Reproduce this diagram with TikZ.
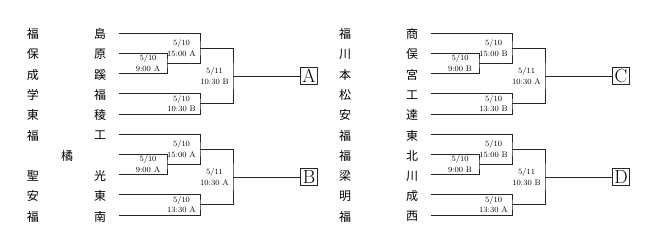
\documentclass[tikz,border=0pt]{standalone}
\usepackage{fontspec}
\newfontfamily\jpfont{Noto Sans CJK JP}
\usetikzlibrary{positioning}
\tikzset{
  team/.style={font=\jpfont\fontsize{12}{12}\selectfont,inner sep=0pt},
  wire/.style={draw=black!85,line width=.6pt},
  slot/.style={font=\fontsize{8}{10.5}\selectfont,align=center,inner sep=0pt},
  seed/.style={draw=black!85,line width=.6pt,minimum size=17pt,inner sep=0pt,font=\fontsize{19}{19}\selectfont},
}
\begin{document}
\begin{tikzpicture}[x=1pt,y=-1pt]
  \useasboundingbox (0,0) rectangle (654,249);

  % ---------------- team names ----------------
  \foreach \i/\l/\r in {1/福/島,2/保/原,3/成/蹊,4/学/福,5/東/稜,6/福/工,8/聖/光,9/安/東,10/福/南}{
    \node[team] (L\i a) at (33,{34+20.3*(\i-1)}) {\l};
    \node[team] (L\i b) at (100,{34+20.3*(\i-1)}) {\r};
  }
  \node[team] (L7m) at (67,{34+20.3*6}) {橘};
  \foreach \i/\l/\r in {1/福/商,2/川/俣,3/本/宮,4/松/工,5/安/達,6/福/東,7/福/北,8/梁/川,9/明/成,10/福/西}{
    \node[team] (R\i a) at (345,{34+20.3*(\i-1)}) {\l};
    \node[team] (R\i b) at (412,{34+20.3*(\i-1)}) {\r};
  }

  % ---------------- brackets ----------------
  \foreach \q/\dx/\dy/\fa/\fb/\fc/\fd in {
      A/0/0/{15:00 A}/{9:00 A}/{10:30 B}/{10:30 B},
      B/0/101/{15:00 A}/{9:00 A}/{13:30 A}/{10:30 A},
      C/312/0/{15:00 B}/{9:00 B}/{13:30 B}/{10:30 A},
      D/312/101/{15:00 B}/{9:00 B}/{13:30 A}/{10:30 B}}{
    \begin{scope}[shift={(\dx,\dy)}]
      \coordinate (\q s1) at (119,33);
      \coordinate (\q s2) at (119,53.2);
      \coordinate (\q s3) at (119,73.4);
      \coordinate (\q s4) at (119,93.6);
      \coordinate (\q s5) at (119,113.8);
      \coordinate (\q m1) at (167,63.3);
      \coordinate (\q m2) at (200,48.15);
      \coordinate (\q m3) at (200,103.7);
      \coordinate (\q m4) at (233,75.9);
      \node[seed] (\q box) at (309,75.9) {\q};

      \draw[wire] (\q s2) -| (\q m1) |- (\q s3);
      \draw[wire] (\q s1) -| (\q m2) |- (\q m1);
      \draw[wire] (\q s4) -| (\q m3) |- (\q s5);
      \draw[wire] (\q m2) -| (\q m4) |- (\q m3);
      \draw[wire] (\q m4) -- (\q box);

      \node[slot] (\q t1) at (181.5,48.15) {5/10\\\fa};
      \node[slot] (\q t2) at (148,63.3) {5/10\\\fb};
      \node[slot] (\q t3) at (181.5,103.7) {5/10\\\fc};
      \node[slot] (\q t4) at (214.5,75.9) {5/11\\\fd};
    \end{scope}
  }
\end{tikzpicture}
\end{document}
